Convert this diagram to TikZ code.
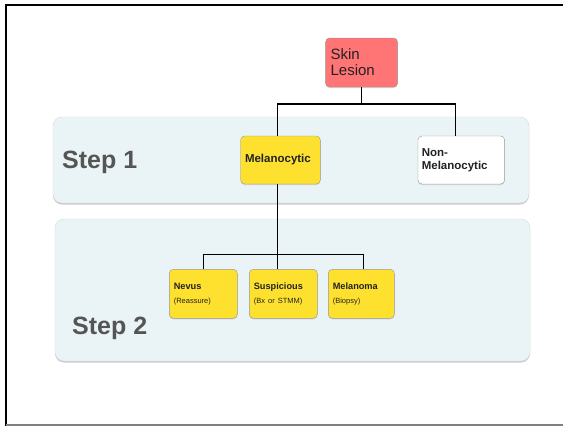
\documentclass[tikz,border=0pt]{standalone}
\usepackage{fontspec}
\setmainfont{Liberation Sans}
\usetikzlibrary{shadows}

\definecolor{lesionred}{HTML}{FF7474}
\definecolor{boxyellow}{HTML}{FEE12F}
\definecolor{panelfill}{HTML}{EAF3F5}
\definecolor{panelline}{HTML}{D3DCDF}
\definecolor{steptext}{HTML}{555555}
\definecolor{boxtext}{HTML}{222222}

\begin{document}
\begin{tikzpicture}[x=1pt,y=-1pt,
	box/.style={draw=black!40,rounded corners=4pt,inner sep=0pt,align=left,text=boxtext,
		drop shadow={shadow xshift=0pt,shadow yshift=-1pt,fill=black!30}},
	panel/.style={draw=panelline,fill=panelfill,rounded corners=9pt,
		drop shadow={shadow xshift=0pt,shadow yshift=-1.5pt,fill=black!40}},
	steplabel/.style={anchor=west,text=steptext,font=\fontsize{25}{28}\selectfont\bfseries,inner sep=0pt},
	link/.style={line width=1.2pt}]

	\useasboundingbox (0,0) rectangle (563,426);
	\fill[white] (0,0) rectangle (563,426);

	\draw[line width=2pt] (6,426) -- (6,4.5) -- (563,4.5);
	\draw[black!50,line width=1.5pt] (6,425) -- (563,425);

	\draw[panel] (53,117) rectangle (529,203);
	\draw[panel] (55,219) rectangle (530,361);

	\node[steplabel] (step1) at (62,162) {Step 1};
	\node[steplabel] (step2) at (72,328) {Step 2};

	\node[box,fill=lesionred,minimum width=72pt,minimum height=49pt,text width=62pt,
		font=\fontsize{15}{16}\selectfont] (lesion) at (361.6,62.5) {Skin\\Lesion};

	\node[box,fill=boxyellow,minimum width=79.6pt,minimum height=48pt,text width=71pt,
		font=\fontsize{11.5}{12.5}\selectfont\bfseries] (melano) at (280.5,160) {Melanocytic};
	\node[box,fill=white,minimum width=86.7pt,minimum height=48pt,text width=79pt,
		font=\fontsize{11.5}{12.5}\selectfont\bfseries] (nonmel) at (461.3,160) {Non-\\Melanocytic};

	\node[box,fill=boxyellow,minimum width=68pt,minimum height=49pt,text width=59pt,
		font=\fontsize{9.2}{10}\selectfont] (nevus) at (203.3,293.8)
		{\textbf{Nevus}\\[4pt]{\fontsize{7.5}{9}\selectfont(Reassure)}};
	\node[box,fill=boxyellow,minimum width=68pt,minimum height=49pt,text width=59pt,
		font=\fontsize{9.2}{10}\selectfont] (susp) at (283.3,293.8)
		{\textbf{Suspicious}\\[4pt]{\fontsize{7.5}{9}\selectfont(Bx or STMM)}};
	\node[box,fill=boxyellow,minimum width=66pt,minimum height=49pt,text width=57pt,
		font=\fontsize{9.2}{10}\selectfont] (melanoma) at (361.3,293.8)
		{\textbf{Melanoma}\\[4pt]{\fontsize{7.5}{9}\selectfont(Biopsy)}};

	\coordinate (split1) at (361.6,104);
	\coordinate (split2) at (277.5,254.3);

	\draw[link] (lesion.south) -- (split1) -| ([xshift=-3pt]melano.north);
	\draw[link] (split1) -| ([xshift=-5.8pt]nonmel.north);
	\draw[link] ([xshift=-3pt]melano.south) -- ([xshift=-5.8pt]susp.north);
	\draw[link] (nevus.north) |- (split2) -| ([xshift=2.4pt]melanoma.north);

\end{tikzpicture}
\end{document}
